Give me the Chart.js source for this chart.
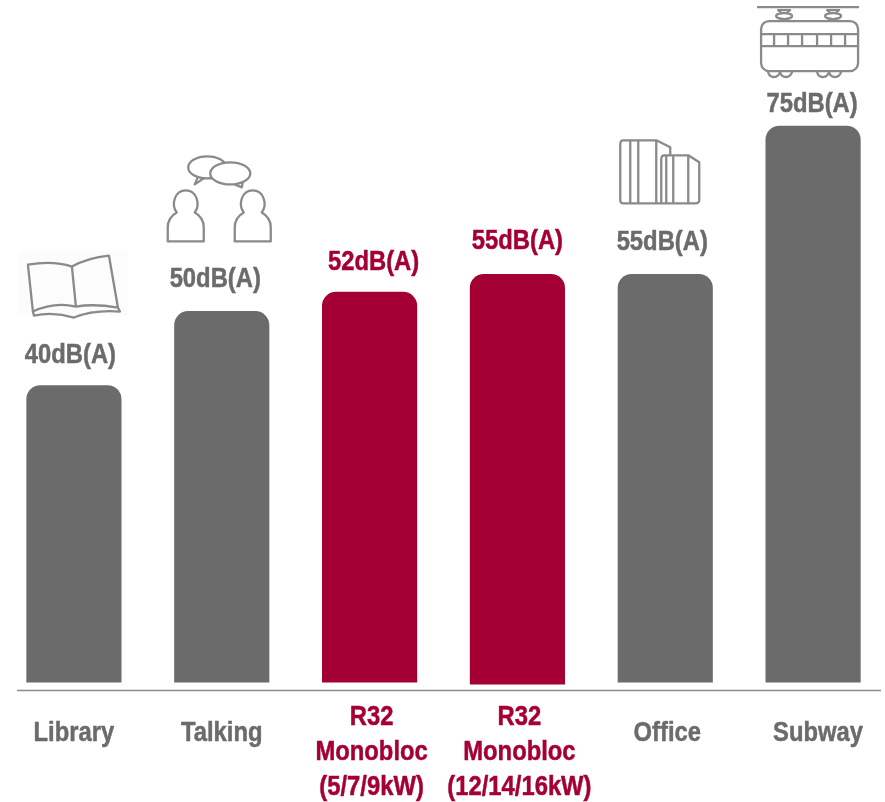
<!DOCTYPE html>
<html>
<head>
<meta charset="utf-8">
<title>Noise level comparison</title>
<style>
  html, body { margin: 0; padding: 0; background: #fff; overflow: hidden; }
  canvas { display: block; }
</style>
<script src="https://cdn.jsdelivr.net/npm/chart.js@4"></script>
</head>
<body>
<canvas id="noise-chart" width="887" height="802"></canvas>
<script>
const categories = [
    ['Library'],
    ['Talking'],
    ['R32', 'Monobloc', '(5/7/9kW)'],
    ['R32', 'Monobloc', '(12/14/16kW)'],
    ['Office'],
    ['Subway']
];
// bar tops as drawn in the picture, the printed labels are below
const barTops = [40, 50, 52.6, 55, 55, 75];
const barStarts = [0, 0, 0, -0.27, 0, 0];
const valueLabels = ['40dB(A)', '50dB(A)', '52dB(A)', '55dB(A)', '55dB(A)', '75dB(A)'];
const highlighted = [false, false, true, true, false, false];

const GREY = '#6b6b6b';
const RED = '#a50034';
const ICON = '#8a8a8a';
const FONT = 'bold 28px "Liberation Sans", Arial, sans-serif';
const SQUISH = 0.85; // reference text is a horizontally squeezed Arial bold

// label nudges in px from the bar centre / bar top
const labelDx = [-3.5, -6.5, 4, 0, -3, -1];
const labelDy = [-30, -32, -30, -33, -32, -22];
const tickDx = [0, 0, 2, 2, 2, 5];

function colorFor(i) {
    return highlighted[i] ? RED : GREY;
}

function squeezedText(ctx, text, x, y) {
    ctx.save();
    ctx.translate(x, y);
    ctx.scale(SQUISH, 1);
    ctx.strokeStyle = ctx.fillStyle;
    ctx.lineWidth = 0.5;
    ctx.fillText(text, 0, 0);
    ctx.strokeText(text, 0, 0);
    ctx.restore();
}

function drawBook(ctx) {
    ctx.fillStyle = '#fcfcfc';
    ctx.fillRect(-56, -135, 110, 65);
    ctx.beginPath();
    ctx.moveTo(-46, -121);
    ctx.quadraticCurveTo(-20, -125, -2, -119);
    ctx.lineTo(2, -79);
    ctx.quadraticCurveTo(-20, -84, -41, -74);
    ctx.closePath();
    ctx.moveTo(-2, -119);
    ctx.quadraticCurveTo(14, -128, 35, -130);
    ctx.lineTo(44, -78);
    ctx.quadraticCurveTo(20, -82, 2, -79);
    ctx.moveTo(-41, -74);
    ctx.lineTo(-40, -70);
    ctx.quadraticCurveTo(-20, -74, 0, -68);
    ctx.quadraticCurveTo(20, -76, 46, -74);
    ctx.lineTo(44, -78);
    ctx.stroke();
}

function drawPerson(ctx, cx) {
    ctx.beginPath();
    ctx.moveTo(cx - 18, 0);
    ctx.lineTo(cx - 18, -14);
    ctx.quadraticCurveTo(cx - 18, -24, cx - 9, -29);
    ctx.bezierCurveTo(cx - 15, -37, cx - 11, -51, cx, -51);
    ctx.bezierCurveTo(cx + 11, -51, cx + 15, -37, cx + 9, -29);
    ctx.quadraticCurveTo(cx + 18, -24, cx + 18, -14);
    ctx.lineTo(cx + 18, 0);
    ctx.closePath();
    ctx.stroke();
}

function drawTalking(ctx) {
    ctx.save();
    ctx.translate(0, -70);
    drawPerson(ctx, -36);
    drawPerson(ctx, 31);
    ctx.restore();
    ctx.beginPath();
    ctx.ellipse(-14.5, -144, 19, 11, 0, 0, Math.PI * 2);
    ctx.moveTo(-24, -134);
    ctx.lineTo(-27, -127);
    ctx.lineTo(-18, -133);
    ctx.stroke();
    ctx.beginPath();
    ctx.ellipse(8.5, -138, 20, 11, 0, 0, Math.PI * 2);
    ctx.fillStyle = '#fff';
    ctx.fill();
    ctx.stroke();
    ctx.beginPath();
    ctx.moveTo(13, -127);
    ctx.lineTo(20, -124);
    ctx.lineTo(21, -129);
    ctx.stroke();
}

function drawOffices(ctx) {
    ctx.beginPath();
    ctx.moveTo(5, -119);
    ctx.lineTo(5, -127);
    ctx.lineTo(-9, -134);
    ctx.lineTo(-42, -134);
    ctx.quadraticCurveTo(-45, -134, -45, -130);
    ctx.lineTo(-45, -74);
    ctx.quadraticCurveTo(-45, -71, -42, -71);
    ctx.lineTo(30, -71);
    ctx.quadraticCurveTo(34, -71, 34, -74);
    ctx.lineTo(34, -112);
    ctx.lineTo(23, -119);
    ctx.lineTo(-1, -119);
    ctx.quadraticCurveTo(-4, -119, -4, -115);
    ctx.lineTo(-4, -71);
    [-35, -27].forEach(x => {
        ctx.moveTo(x, -134);
        ctx.lineTo(x, -71);
    });
    ctx.moveTo(-9, -134);
    ctx.lineTo(-9, -71);
    [1, 8, 23].forEach(x => {
        ctx.moveTo(x, -119);
        ctx.lineTo(x, -71);
    });
    ctx.stroke();
}

function drawPantograph(ctx, cx) {
    ctx.beginPath();
    ctx.moveTo(cx - 6, -116);
    ctx.lineTo(cx + 6, -116);
    ctx.lineTo(cx + 3, -113);
    ctx.lineTo(cx - 3, -113);
    ctx.closePath();
    ctx.moveTo(cx + 8, -110);
    ctx.ellipse(cx, -110, 8, 3, 0, 0, Math.PI * 2);
    ctx.stroke();
}

function drawTrain(ctx) {
    ctx.beginPath();
    ctx.moveTo(-56, -119);
    ctx.lineTo(46, -119);
    ctx.stroke();
    drawPantograph(ctx, -29);
    drawPantograph(ctx, 20);
    ctx.beginPath();
    ctx.roundRect(-52, -105, 97, 50, 8);
    ctx.moveTo(-52, -92);
    ctx.lineTo(45, -92);
    ctx.moveTo(-52, -80);
    ctx.lineTo(45, -80);
    [-39, -25, -11, 4, 18, 32].forEach(x => {
        ctx.moveTo(x, -92);
        ctx.lineTo(x, -80);
    });
    ctx.stroke();
    [-39, -27, 10, 22].forEach(x => {
        ctx.beginPath();
        ctx.arc(x, -55, 6, 0.1, Math.PI - 0.1);
        ctx.stroke();
    });
}

// icon sits on the bar centre, its local y = 0 is the bar top
const iconDrawers = [drawBook, drawTalking, null, null, drawOffices, drawTrain];

const decorPlugin = {
    id: 'decor',
    afterDatasetsDraw(chart) {
        const { ctx, chartArea, scales } = chart;
        const x = scales.x;
        const y = scales.y;

        ctx.save();
        ctx.strokeStyle = '#8c8c8c';
        ctx.lineWidth = 1.5;
        ctx.beginPath();
        ctx.moveTo(chartArea.left + 17, chartArea.bottom - 0.5);
        ctx.lineTo(chartArea.left + 881, chartArea.bottom - 0.5);
        ctx.stroke();

        ctx.textAlign = 'center';
        ctx.textBaseline = 'middle';
        ctx.font = FONT;
        valueLabels.forEach((label, i) => {
            ctx.fillStyle = colorFor(i);
            squeezedText(ctx, label, x.getPixelForValue(i) + labelDx[i], y.getPixelForValue(barTops[i]) + labelDy[i]);
        });

        // category names: one-liners sit level with the gap between the first two lines
        categories.forEach((lines, i) => {
            ctx.fillStyle = colorFor(i);
            const firstLine = chartArea.bottom + (lines.length > 1 ? 26 : 42);
            lines.forEach((line, n) => {
                squeezedText(ctx, line, x.getPixelForValue(i) + tickDx[i], firstLine + n * 35);
            });
        });

        ctx.strokeStyle = ICON;
        ctx.lineWidth = 2.3;
        ctx.lineJoin = 'round';
        iconDrawers.forEach((draw, i) => {
            if (!draw) return;
            ctx.save();
            ctx.translate(x.getPixelForValue(i), y.getPixelForValue(barTops[i]));
            draw(ctx);
            ctx.restore();
        });
        ctx.restore();
    }
};

function initChart() {
    const canvas = document.getElementById('noise-chart');

    new Chart(canvas, {
        type: 'bar',
        data: {
            labels: categories,
            datasets: [{
                data: barTops.map((top, i) => [barStarts[i], top]),
                backgroundColor: barTops.map((_, i) => colorFor(i)),
                barThickness: 94.5,
                borderSkipped: false,
                borderRadius: { topLeft: 14, topRight: 14, bottomLeft: 0, bottomRight: 0 }
            }]
        },
        options: {
            responsive: false,
            animation: false,
            layout: { padding: 0 },
            scales: {
                x: {
                    grid: { display: false },
                    border: { display: false },
                    afterFit(scale) {
                        scale.height = 111;
                    },
                    ticks: { display: false, autoSkip: false }
                },
                y: {
                    display: false,
                    min: -1.2,
                    max: 92
                }
            },
            plugins: {
                legend: { display: false },
                tooltip: { enabled: false }
            }
        },
        plugins: [decorPlugin]
    });
}

document.addEventListener('DOMContentLoaded', initChart);
</script>
</body>
</html>
